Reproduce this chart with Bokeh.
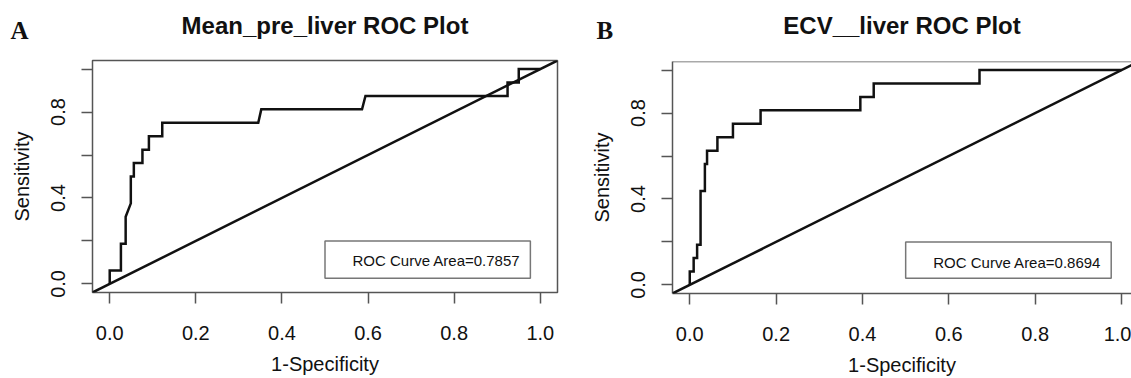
from bokeh.plotting import figure
from bokeh.layouts import row, column
from bokeh.models import (FixedTicker, NumeralTickFormatter, BoxAnnotation, Label,
                          Span, Range1d, Slope)
from bokeh.core.properties import value
from bokeh.embed import file_html
from bokeh.resources import INLINE

# ---------------- data ----------------
TICKS = [0.0, 0.2, 0.4, 0.6, 0.8, 1.0]
Y_LABELED = [0.0, 0.4, 0.8]
Y_UNLABELED = [0.2, 0.6, 1.0]

TITLE_A = "Mean_pre_liver ROC Plot"
TITLE_B = "ECV__liver ROC Plot"
AUC_A = "0.7857"
AUC_B = "0.8694"

fpr_a = [0, 0, 0.026, 0.026, 0.037, 0.037, 0.049, 0.049, 0.056, 0.056, 0.076, 0.076,
         0.091, 0.091, 0.122, 0.122, 0.345, 0.352, 0.586, 0.594, 0.924, 0.924, 0.95, 0.95, 1.0]
tpr_a = [0, 0.0625, 0.0625, 0.1875, 0.1875, 0.3125, 0.375, 0.5, 0.5, 0.5625, 0.5625, 0.625,
         0.625, 0.6875, 0.6875, 0.75, 0.75, 0.8125, 0.8125, 0.875, 0.875, 0.9375, 0.9375, 1.0, 1.0]

fpr_b = [0, 0, 0.009, 0.009, 0.017, 0.017, 0.025, 0.025, 0.035, 0.035, 0.040, 0.040,
         0.064, 0.064, 0.100, 0.100, 0.164, 0.164, 0.395, 0.395, 0.426, 0.426, 0.671, 0.671, 1.0]
tpr_b = [0, 0.0625, 0.0625, 0.125, 0.125, 0.1875, 0.1875, 0.4375, 0.4375, 0.5625, 0.5625, 0.625,
         0.625, 0.6875, 0.6875, 0.75, 0.75, 0.8125, 0.8125, 0.875, 0.875, 0.9375, 0.9375, 1.0, 1.0]

FONT = "Liberation Sans"
SERIF = "Liberation Serif"
FRAME_COL = "#555555"
INK = "#111111"
STRIP_H = 44
TOTAL_H = 378
X_START = -0.04
TITLE_BASE = 25     # header text baselines (pixels from the strip top)
LETTER_BASE = 29.5


def make_strip(title, letter, width, left, right, x_end, letter_px):
    """Header strip holding the panel letter and the bold title (pixel layout)."""
    s = figure(width=width, height=STRIP_H, output_backend="svg", toolbar_location=None,
               x_range=Range1d(0, width), y_range=Range1d(STRIP_H, 0),
               x_axis_type=None, y_axis_type=None,
               min_border_left=0, min_border_right=0, min_border_top=0, min_border_bottom=0)
    s.frame_align = False
    s.outline_line_color = None
    s.xgrid.visible = False
    s.ygrid.visible = False
    frame_w = width - left - right
    title_x = left + frame_w * (0.5 - X_START) / (x_end - X_START)
    s.text(x=[title_x], y=[TITLE_BASE], text=[title], text_align="center",
           text_baseline="alphabetic", text_font=value(FONT), text_font_size="24px",
           text_font_style="bold", text_color=INK)
    s.text(x=[letter_px], y=[LETTER_BASE], text=[letter], text_align="left",
           text_baseline="alphabetic", text_font=value(SERIF), text_font_size="25px",
           text_font_style="bold", text_color=INK)
    return s


def make_panel(fpr, tpr, auc, width, x_end, borders, full_box,
               legend_box, legend_text_xy):
    left, right, top, bottom = borders
    p = figure(width=width, height=TOTAL_H - STRIP_H, output_backend="svg",
               toolbar_location=None,
               x_range=Range1d(X_START, x_end), y_range=Range1d(-0.04, 1.04),
               min_border_left=left, min_border_right=right,
               min_border_top=top - STRIP_H, min_border_bottom=bottom,
               background_fill_color="white", border_fill_color="white")
    p.frame_align = False
    p.xgrid.visible = False
    p.ygrid.visible = False

    if full_box:
        p.outline_line_color = FRAME_COL
        p.outline_line_width = 1.5
        p.outline_line_alpha = 1.0
    else:
        p.outline_line_color = None
        p.add_layout(Span(location=1.04, dimension="width", line_color=FRAME_COL,
                          line_width=1.5))

    for ax in (p.xaxis[0], p.yaxis[0]):
        ax.major_tick_out = 11
        ax.major_tick_in = 0
        ax.major_tick_line_color = FRAME_COL
        ax.major_tick_line_width = 1.5
        ax.formatter = NumeralTickFormatter(format="0.0")
        ax.major_label_text_font = FONT
        ax.major_label_text_font_size = "20px"
        ax.major_label_text_color = INK
        ax.axis_label_text_font = FONT
        ax.axis_label_text_font_size = "20px"
        ax.axis_label_text_font_style = "normal"
        ax.axis_label_text_color = INK
        ax.axis_line_color = None if full_box else FRAME_COL
        ax.axis_line_width = 1.5

    xa = p.xaxis[0]
    xa.ticker = FixedTicker(ticks=TICKS)
    xa.minor_tick_line_color = None
    xa.axis_label = "1-Specificity"
    xa.major_label_standoff = 22
    xa.axis_label_standoff = 10

    ya = p.yaxis[0]
    ya.ticker = FixedTicker(ticks=Y_LABELED, minor_ticks=Y_UNLABELED)
    ya.minor_tick_out = 11
    ya.minor_tick_in = 0
    ya.minor_tick_line_color = FRAME_COL
    ya.minor_tick_line_width = 1.5
    ya.major_label_orientation = "vertical"
    ya.axis_label = "Sensitivity"
    ya.major_label_standoff = 16
    ya.axis_label_standoff = 16

    p.add_layout(Slope(gradient=1, y_intercept=0, line_color=INK, line_width=2.5))
    p.line(fpr, tpr, line_color=INK, line_width=2.5, line_join="miter")

    bl, br, bb, bt = legend_box
    p.add_layout(BoxAnnotation(left=bl, right=br, bottom=bb, top=bt, fill_color=None,
                               line_color="#777777", line_width=1.5, line_alpha=1.0))
    p.add_layout(Label(x=legend_text_xy[0], y=legend_text_xy[1],
                       text="ROC Curve Area=" + auc, text_align="right",
                       text_baseline="middle", text_font=FONT, text_font_size="15px",
                       text_color=INK))
    return p


# panel A
WA, XA_END, BA = 560, 1.04, (92, 3, 60, 86)
# panel B (its right side is cut by the page edge, as in the source image)
WB, XB_END, BB = 571, 1.023, (112, 0, 61, 83)

sa = make_strip(TITLE_A, "A", WA, BA[0], BA[1], XA_END, 10)
pa = make_panel(fpr_a, tpr_a, AUC_A, WA, XA_END, BA, True,
                (0.5, 0.977, 0.026, 0.2), (0.954, 0.108))
sb = make_strip(TITLE_B, "B", WB, BB[0], BB[1], 1.04, 36)
pb = make_panel(fpr_b, tpr_b, AUC_B, WB, XB_END, BB, False,
                (0.5, 0.976, 0.031, 0.2), (0.953, 0.105))

layout = row(column(sa, pa), column(sb, pb))
with open("out.html", "w") as f:
    f.write(file_html(layout, INLINE))
